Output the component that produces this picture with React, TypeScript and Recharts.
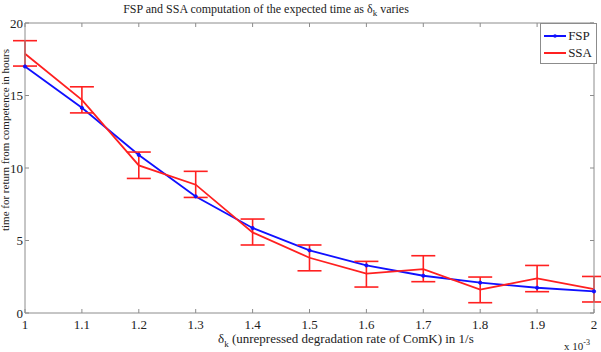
import { ComposedChart, Line, XAxis, YAxis, ErrorBar } from 'recharts';

const deltaK = [1.0, 1.1, 1.2, 1.3, 1.4, 1.5, 1.6, 1.7, 1.8, 1.9, 2.0];
const fspTime = [17.0, 14.15, 10.9, 8.04, 5.86, 4.32, 3.28, 2.57, 2.09, 1.74, 1.49];
const ssaTime = [17.88, 14.7, 10.18, 8.85, 5.56, 3.81, 2.71, 3.03, 1.61, 2.39, 1.65];
const ssaErrLow = [0.85, 0.9, 0.9, 0.88, 0.87, 0.9, 0.92, 0.87, 0.9, 0.92, 0.89];
const ssaErrHigh = [0.9, 0.9, 0.92, 0.92, 0.92, 0.88, 0.85, 0.92, 0.87, 0.89, 0.87];
const xTicks = [1, 1.1, 1.2, 1.3, 1.4, 1.5, 1.6, 1.7, 1.8, 1.9, 2];
const yTicks = [0, 5, 10, 15, 20];

const data = deltaK.map((d, i) => ({
    d,
    fsp: fspTime[i],
    ssa: ssaTime[i],
    ssaErr: [ssaErrLow[i], ssaErrHigh[i]],
}));

const axisColor = '#8c8c8c';
const serif = '"Liberation Serif", "DejaVu Serif", serif';
const tickStyle = { fill: '#222', fontSize: 13, fontFamily: serif };
const noLabel = () => '';

function LegendBox() {
    return (
        <div
            style={{
                position: 'absolute',
                top: 23,
                right: 4,
                border: `1px solid ${axisColor}`,
                background: '#fff',
                padding: '3px 4px 2px 3px',
                fontFamily: serif,
                fontSize: 13,
                color: '#222',
                lineHeight: '17px',
            }}
        >
            <div style={{ display: 'flex', alignItems: 'center' }}>
                <svg width={22} height={8} style={{ marginRight: 2 }}>
                    <line x1={0} y1={4} x2={22} y2={4} stroke="#1010ff" strokeWidth={2} />
                    <circle cx={11} cy={4} r={1.8} fill="#1010ff" />
                </svg>
                FSP
            </div>
            <div style={{ display: 'flex', alignItems: 'center' }}>
                <svg width={22} height={8} style={{ marginRight: 2 }}>
                    <line x1={0} y1={4} x2={22} y2={4} stroke="#ff2020" strokeWidth={2} />
                </svg>
                SSA
            </div>
        </div>
    );
}

export default function App() {
    return (
        <div style={{ position: 'absolute', left: 0, top: 0, width: 601, height: 352, background: '#fff', overflow: 'hidden' }}>
            <ComposedChart width={601} height={352} data={data} margin={{ top: 22, right: 6, left: 0, bottom: 0 }}>
                <XAxis
                    dataKey="d"
                    type="number"
                    domain={[1, 2]}
                    ticks={xTicks}
                    tickFormatter={(v: number) => (v === 1 || v === 2 ? String(v) : v.toFixed(1))}
                    tick={tickStyle}
                    tickSize={-4}
                    tickMargin={11}
                    stroke={axisColor}
                    height={39}
                    interval={0}
                />
                <XAxis
                    xAxisId="top"
                    orientation="top"
                    dataKey="d"
                    type="number"
                    domain={[1, 2]}
                    ticks={xTicks}
                    tick={tickStyle}
                    tickFormatter={noLabel}
                    tickSize={-4}
                    stroke={axisColor}
                    height={1}
                    interval={0}
                />
                <YAxis
                    domain={[0, 20]}
                    ticks={yTicks}
                    tick={tickStyle}
                    tickSize={-4}
                    tickMargin={6}
                    stroke={axisColor}
                    width={25}
                    interval={0}
                />
                <YAxis
                    yAxisId="right"
                    orientation="right"
                    domain={[0, 20]}
                    ticks={yTicks}
                    tick={tickStyle}
                    tickFormatter={noLabel}
                    tickSize={-4}
                    stroke={axisColor}
                    width={1}
                    interval={0}
                />
                <Line
                    dataKey="fsp"
                    name="FSP"
                    stroke="#1010ff"
                    strokeWidth={1.8}
                    dot={{ r: 1.6, fill: '#1010ff', stroke: '#1010ff', strokeWidth: 1 }}
                    isAnimationActive={false}
                />
                <Line
                    dataKey="ssa"
                    name="SSA"
                    xAxisId="top"
                    yAxisId="right"
                    stroke="#ff2020"
                    strokeWidth={1.8}
                    dot={false}
                    isAnimationActive={false}
                >
                    <ErrorBar dataKey="ssaErr" width={12} stroke="#ff2020" strokeWidth={1.6} direction="y" />
                </Line>
            </ComposedChart>
            <LegendBox />
            <div
                style={{
                    position: 'absolute',
                    top: 2,
                    left: 0,
                    width: 532,
                    textAlign: 'center',
                    fontFamily: serif,
                    fontSize: 12,
                    color: '#222',
                }}
            >
                FSP and SSA computation of the expected time as δ<sub style={{ fontSize: 9 }}>k</sub> varies
            </div>
            <div
                style={{
                    position: 'absolute',
                    left: 5,
                    top: 140,
                    transform: 'translate(-50%, -50%) rotate(-90deg)',
                    whiteSpace: 'nowrap',
                    fontFamily: serif,
                    fontSize: 11,
                    lineHeight: '11px',
                    color: '#222',
                }}
            >
                time for return from competence in hours
            </div>
            <div
                style={{
                    position: 'absolute',
                    top: 331,
                    left: 218,
                    whiteSpace: 'nowrap',
                    fontFamily: serif,
                    fontSize: 13,
                    color: '#222',
                }}
            >
                δ<sub style={{ fontSize: 9 }}>k</sub> (unrepressed degradation rate of ComK) in 1/s
            </div>
            <div
                style={{
                    position: 'absolute',
                    top: 338,
                    left: 564,
                    whiteSpace: 'nowrap',
                    fontFamily: serif,
                    fontSize: 11,
                    color: '#222',
                }}
            >
                x 10<sup style={{ fontSize: 8 }}>-3</sup>
            </div>
        </div>
    );
}
